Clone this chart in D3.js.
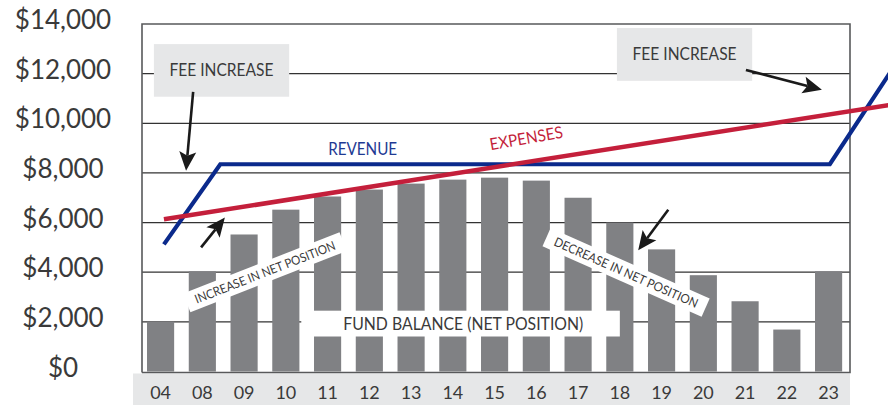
<!DOCTYPE html>
<html>
<head>
<meta charset="utf-8">
<script src="https://cdn.jsdelivr.net/npm/d3@7"></script>
<style>
  body { margin: 0; background: #fff; }
  text { font-family: "Lato", "Noto Sans", sans-serif; }
</style>
</head>
<body>
<div id="chart"></div>
<script>
// fiscal years on the x axis
const years = ["04", "08", "09", "10", "11", "12", "13", "14", "15", "16", "17", "18", "19", "20", "21", "22", "23"];
// fund balance (net position) bars
const fundBalance = [2010, 4040, 5520, 6520, 7050, 7330, 7570, 7730, 7810, 7690, 7000, 6000, 4920, 3880, 2830, 1690, 4040];
// revenue and expenses lines, pos = position along the year axis (0 = "04")
const revenue = [
  { pos: 0.08, v: 5120 },
  { pos: 1.43, v: 8350 },
  { pos: 16.03, v: 8350 },
  { pos: 17.5, v: 12110 }
];
const expenses = [
  { pos: 0.08, v: 6130 },
  { pos: 17.5, v: 10750 }
];
const yTicks = [0, 2000, 4000, 6000, 8000, 10000, 12000, 14000];

// annotations, placed in data units
const feeBoxes = [
  { p0: -0.16, p1: 3.08, v0: 11070, v1: 13190, label: "FEE INCREASE" },
  { p0: 10.93, p1: 14.17, v0: 11710, v1: 13840, label: "FEE INCREASE" }
];
const arrows = [
  { from: [0.78, 11270], to: [0.61, 8090] },
  { from: [14.02, 12150], to: [15.84, 11350] },
  { from: [0.97, 5000], to: [1.54, 6200] },
  { from: [12.16, 6520], to: [11.44, 4880] }
];

var width = 888, height = 405;
var plot = { left: 142, right: 850, top: 24, bottom: 371.5 };
var ink = "#3a3a3a";

var svg = d3.select("#chart").append("svg")
  .attr("width", width)
  .attr("height", height);

var x = d3.scaleBand().domain(years).range([plot.left, plot.right])
  .paddingInner(0.35).paddingOuter(0.154).align(0.39);
var y = d3.scaleLinear().domain([0, 14000]).range([plot.bottom, plot.top]);
var xPos = d3.scaleLinear().domain([0, years.length - 1])
  .range([x(years[0]) + x.bandwidth() / 2, x(years[years.length - 1]) + x.bandwidth() / 2]);

// x label band
svg.append("rect")
  .attr("x", 133).attr("y", plot.bottom + 2)
  .attr("width", plot.right - 133).attr("height", height - plot.bottom - 2)
  .attr("fill", "#e6e7e8");

// gridlines
svg.append("g").selectAll("line").data(yTicks.slice(1, -1)).enter().append("line")
  .attr("x1", plot.left).attr("x2", plot.right)
  .attr("y1", function(d){ return y(d); }).attr("y2", function(d){ return y(d); })
  .attr("stroke", "#333").attr("stroke-width", 1.3);

// bars
svg.append("g").selectAll("rect").data(fundBalance).enter().append("rect")
  .attr("x", function(d, i){ return x(years[i]); })
  .attr("y", function(d){ return y(d); })
  .attr("width", x.bandwidth())
  .attr("height", function(d){ return y(0) - y(d); })
  .attr("fill", "#808184");

// frame
svg.append("path")
  .attr("d", "M" + plot.left + "," + (plot.bottom + 1) + "V" + plot.top + "H" + plot.right + "V" + (plot.bottom + 1) + "H" + plot.left)
  .attr("fill", "none").attr("stroke", "#58595b").attr("stroke-width", 1.6);

// y labels
svg.append("g").selectAll("text").data(yTicks).enter().append("text")
  .attr("x", 63).attr("y", function(d){ return y(d) + 5; })
  .attr("text-anchor", "middle")
  .attr("font-size", 26).attr("fill", ink)
  .text(function(d){ return d3.format("$,")(d); });

// x labels
svg.append("g").selectAll("text").data(years).enter().append("text")
  .attr("x", function(d){ return x(d) + x.bandwidth() / 2; })
  .attr("y", 399)
  .attr("text-anchor", "middle")
  .attr("font-size", 18).attr("fill", ink)
  .text(function(d){ return d; });

// fee increase boxes
var fee = svg.append("g").selectAll("g").data(feeBoxes).enter().append("g");
fee.append("rect")
  .attr("x", function(d){ return xPos(d.p0); })
  .attr("y", function(d){ return y(d.v1); })
  .attr("width", function(d){ return xPos(d.p1) - xPos(d.p0); })
  .attr("height", function(d){ return y(d.v0) - y(d.v1); })
  .attr("fill", "#e6e7e8");
fee.append("text")
  .attr("x", function(d){ return (xPos(d.p0) + xPos(d.p1)) / 2; })
  .attr("y", function(d){ return (y(d.v0) + y(d.v1)) / 2 + 6; })
  .attr("text-anchor", "middle").attr("font-size", 16.5).attr("fill", ink)
  .attr("textLength", 104).attr("lengthAdjust", "spacingAndGlyphs")
  .text(function(d){ return d.label; });

// rotated white labels over the bars
function tiltedLabel(pos, v, angle, len, label) {
  var g = svg.append("g")
    .attr("transform", "translate(" + xPos(pos) + "," + y(v) + ") rotate(" + angle + ")");
  g.append("rect").attr("x", -len / 2 - 9).attr("y", -10).attr("width", len + 18).attr("height", 20).attr("fill", "#fff");
  g.append("text").attr("x", 0).attr("y", 4.5)
    .attr("text-anchor", "middle").attr("font-size", 12.5).attr("fill", ink)
    .attr("textLength", len).attr("lengthAdjust", "spacingAndGlyphs")
    .text(label);
}
tiltedLabel(2.5, 4000, -21.4, 150, "INCREASE IN NET POSITION");
tiltedLabel(11.15, 3990, 23.9, 156, "DECREASE IN NET POSITION");

// fund balance label
svg.append("rect")
  .attr("x", xPos(3.37)).attr("y", y(2450))
  .attr("width", xPos(11.0) - xPos(3.37)).attr("height", y(1410) - y(2450))
  .attr("fill", "#fff");
svg.append("text")
  .attr("x", xPos(7.25)).attr("y", y(1930) + 6)
  .attr("text-anchor", "middle").attr("font-size", 16.5).attr("fill", ink)
  .attr("textLength", 240).attr("lengthAdjust", "spacingAndGlyphs")
  .text("FUND BALANCE (NET POSITION)");

// lines
var line = d3.line().x(function(d){ return xPos(d.pos); }).y(function(d){ return y(d.v); });
svg.append("path").attr("d", line(revenue))
  .attr("fill", "none").attr("stroke", "#0b2a8c").attr("stroke-width", 4.2).attr("stroke-linejoin", "miter");
svg.append("path").attr("d", line(expenses))
  .attr("fill", "none").attr("stroke", "#c41f3b").attr("stroke-width", 4.5);

svg.append("text")
  .attr("x", xPos(4.84)).attr("y", y(8730))
  .attr("text-anchor", "middle").attr("font-size", 16.5).attr("fill", "#1f3a93")
  .attr("textLength", 69).attr("lengthAdjust", "spacingAndGlyphs")
  .text("REVENUE");
svg.append("text")
  .attr("transform", "translate(" + xPos(8.78) + "," + (y(9410) + 6) + ") rotate(-10)")
  .attr("text-anchor", "middle").attr("font-size", 16.5).attr("fill", "#c41f3b")
  .attr("textLength", 74).attr("lengthAdjust", "spacingAndGlyphs")
  .text("EXPENSES");

// arrows
var headLen = 19, headHalf = 8.5, notch = 4;
arrows.forEach(function(a){
  var x0 = xPos(a.from[0]), y0 = y(a.from[1]);
  var x1 = xPos(a.to[0]), y1 = y(a.to[1]);
  var dx = x1 - x0, dy = y1 - y0, L = Math.sqrt(dx * dx + dy * dy);
  var ux = dx / L, uy = dy / L, nx = -uy, ny = ux;
  var bx = x1 - ux * headLen, by = y1 - uy * headLen;
  svg.append("line")
    .attr("x1", x0).attr("y1", y0)
    .attr("x2", bx + ux * notch).attr("y2", by + uy * notch)
    .attr("stroke", "#1a1a1a").attr("stroke-width", 2.6);
  svg.append("path")
    .attr("d", "M" + x1 + "," + y1 +
      "L" + (bx + nx * headHalf) + "," + (by + ny * headHalf) +
      "L" + (bx + ux * notch) + "," + (by + uy * notch) +
      "L" + (bx - nx * headHalf) + "," + (by - ny * headHalf) + "Z")
    .attr("fill", "#1a1a1a");
});
</script>
</body>
</html>
